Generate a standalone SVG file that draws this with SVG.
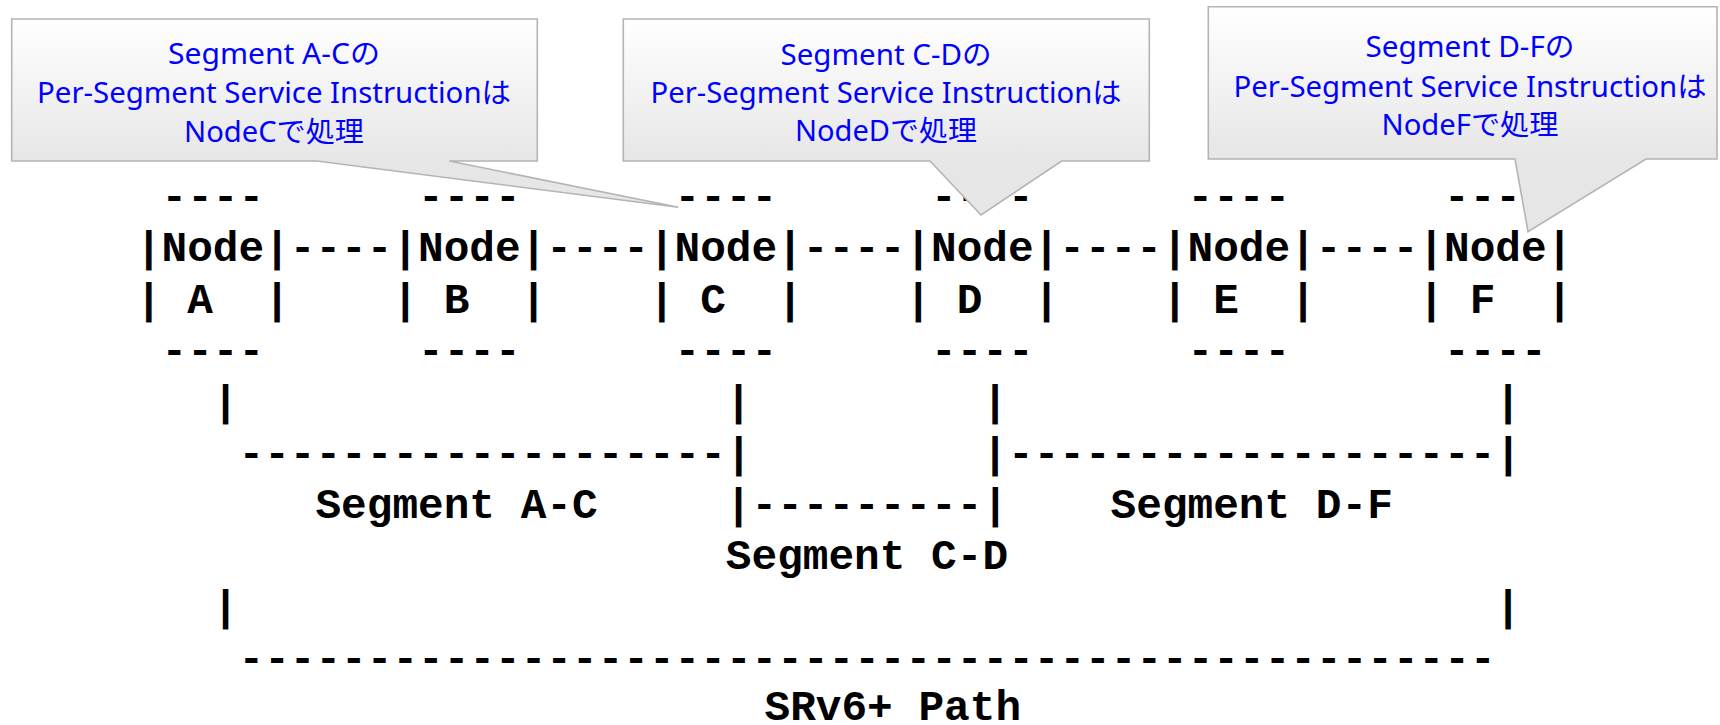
<svg xmlns="http://www.w3.org/2000/svg" width="1720" height="725" viewBox="0 0 1720 725">
  <defs>
    <style>
      .m { font-family: "Courier New", "Nimbus Mono PS", "Liberation Mono", monospace; font-size: 42.75px; font-weight: bold; fill: #000; }
      .note { fill-rule: nonzero; stroke: #b4b4b4; stroke-width: 1.6; stroke-linejoin: miter; }
      .nt { font-family: "Noto Sans", "Noto Sans CJK JP", sans-serif; font-size: 28.5px; fill: #0000ff; text-anchor: middle; }
    </style>
    <linearGradient id="noteFill" x1="0" y1="0" x2="0" y2="1">
      <stop offset="0" stop-color="#ffffff"/>
      <stop offset="1" stop-color="#e6e6e6"/>
    </linearGradient>
    <linearGradient id="noteFillAC" href="#noteFill" gradientUnits="userSpaceOnUse" x1="0" y1="19" x2="0" y2="161"/>
    <linearGradient id="noteFillCD" href="#noteFill" gradientUnits="userSpaceOnUse" x1="0" y1="19" x2="0" y2="161"/>
    <linearGradient id="noteFillDF" href="#noteFill" gradientUnits="userSpaceOnUse" x1="0" y1="7" x2="0" y2="159"/>
  </defs>

  <rect width="1720" height="725" fill="#ffffff"/>

  <!-- nodes: 4-row ASCII boxes, one column = 25.65px -->
  <g id="node-a">
    <text class="m" x="161.55" y="210">----</text>
    <text class="m" x="135.9" y="261.3">|Node|</text>
    <text class="m" x="135.9" y="312.6" xml:space="preserve">| A  |</text>
    <text class="m" x="161.55" y="363.9">----</text>
  </g>
  <g id="node-b">
    <text class="m" x="418.05" y="210">----</text>
    <text class="m" x="392.4" y="261.3">|Node|</text>
    <text class="m" x="392.4" y="312.6" xml:space="preserve">| B  |</text>
    <text class="m" x="418.05" y="363.9">----</text>
  </g>
  <g id="node-c">
    <text class="m" x="674.55" y="210">----</text>
    <text class="m" x="648.9" y="261.3">|Node|</text>
    <text class="m" x="648.9" y="312.6" xml:space="preserve">| C  |</text>
    <text class="m" x="674.55" y="363.9">----</text>
  </g>
  <g id="node-d">
    <text class="m" x="931.05" y="210">----</text>
    <text class="m" x="905.4" y="261.3">|Node|</text>
    <text class="m" x="905.4" y="312.6" xml:space="preserve">| D  |</text>
    <text class="m" x="931.05" y="363.9">----</text>
  </g>
  <g id="node-e">
    <text class="m" x="1187.55" y="210">----</text>
    <text class="m" x="1161.9" y="261.3">|Node|</text>
    <text class="m" x="1161.9" y="312.6" xml:space="preserve">| E  |</text>
    <text class="m" x="1187.55" y="363.9">----</text>
  </g>
  <g id="node-f">
    <text class="m" x="1444.05" y="210">----</text>
    <text class="m" x="1418.4" y="261.3">|Node|</text>
    <text class="m" x="1418.4" y="312.6" xml:space="preserve">| F  |</text>
    <text class="m" x="1444.05" y="363.9">----</text>
  </g>

  <!-- links between nodes and the segment brackets -->
  <g id="connectors">
    <text class="m" x="289.8" y="261.3">----</text>
    <text class="m" x="546.3" y="261.3">----</text>
    <text class="m" x="802.8" y="261.3">----</text>
    <text class="m" x="1059.3" y="261.3">----</text>
    <text class="m" x="1315.8" y="261.3">----</text>

    <text class="m" x="212.85" y="415.2">|</text>
    <text class="m" x="725.85" y="415.2">|</text>
    <text class="m" x="982.35" y="415.2">|</text>
    <text class="m" x="1495.35" y="415.2">|</text>

    <text class="m" x="238.5" y="466.5">-------------------|</text>
    <text class="m" x="982.35" y="466.5">|-------------------|</text>

    <text class="m" x="725.85" y="517.8">|---------|</text>

    <text class="m" x="212.85" y="620.4">|</text>
    <text class="m" x="1495.35" y="620.4">|</text>

    <text class="m" x="238.5" y="671.7">-------------------------------------------------</text>
  </g>

  <g id="labels">
    <text class="m" x="315.45" y="517.8">Segment A-C</text>
    <text class="m" x="1110.6" y="517.8">Segment D-F</text>
    <text class="m" x="725.85" y="569.1">Segment C-D</text>
    <text class="m" x="764.5" y="720">SRv6+ Path</text>
  </g>

  <!-- callouts drawn over the ASCII figure -->
  <g id="callout-ac">
    <path class="note" fill="url(#noteFillAC)" d="M11.7,19 H537.3 V161 H449.3 L678.3,207.3 L316.7,161 H11.7 Z"/>
    <text class="nt" x="274" y="64.3" textLength="212" lengthAdjust="spacingAndGlyphs">Segment A-Cの</text>
    <text class="nt" x="274" y="103" textLength="474" lengthAdjust="spacingAndGlyphs">Per-Segment Service Instructionは</text>
    <text class="nt" x="274" y="141.7" textLength="180" lengthAdjust="spacingAndGlyphs">NodeCで処理</text>
  </g>
  <g id="callout-cd">
    <path class="note" fill="url(#noteFillCD)" d="M623.3,19 H1149.3 V161 H1061.7 L981,215 L930,161 H623.3 Z"/>
    <text class="nt" x="886" y="65" textLength="211" lengthAdjust="spacingAndGlyphs">Segment C-Dの</text>
    <text class="nt" x="886" y="102.5" textLength="471" lengthAdjust="spacingAndGlyphs">Per-Segment Service Instructionは</text>
    <text class="nt" x="886" y="141" textLength="182" lengthAdjust="spacingAndGlyphs">NodeDで処理</text>
  </g>
  <g id="callout-df">
    <path class="note" fill="url(#noteFillDF)" d="M1208.3,6.7 H1717 V159 H1646 L1528,231.7 L1515,159 H1208.3 Z"/>
    <text class="nt" x="1470" y="57.3" textLength="209" lengthAdjust="spacingAndGlyphs">Segment D-Fの</text>
    <text class="nt" x="1470" y="96.7" textLength="473" lengthAdjust="spacingAndGlyphs">Per-Segment Service Instructionは</text>
    <text class="nt" x="1470" y="135" textLength="177" lengthAdjust="spacingAndGlyphs">NodeFで処理</text>
  </g>
</svg>
